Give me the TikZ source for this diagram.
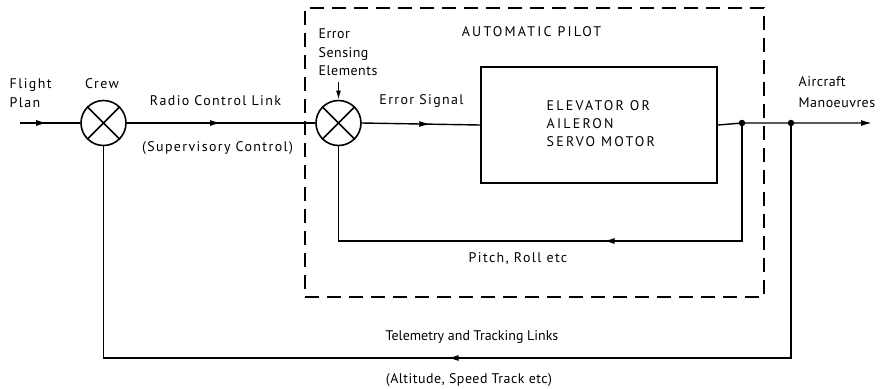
\documentclass[tikz,border=0pt]{standalone}
\usepackage{fontspec}
\setmainfont{PT Sans}[LetterSpace=10]
\newfontfamily\ptN{PT Sans}[LetterSpace=0]
\newfontfamily\ptS{PT Sans}[LetterSpace=3.5]
\newfontfamily\ptW{PT Sans}[LetterSpace=16]
\usetikzlibrary{arrows.meta,decorations.markings}
\begin{document}
\begin{tikzpicture}[x=1bp,y=-1bp,
  line width=1.4bp,
  sumj/.style={circle,draw,line width=1.6bp,minimum size=45bp,inner sep=0pt},
  servo/.style={draw,line width=2.3bp,minimum width=236bp,minimum height=116bp,inner sep=0pt},
  apbox/.style={draw,line width=1.3bp,dash pattern=on 14bp off 8bp,minimum width=459bp,minimum height=289bp,inner sep=0pt},
  lbl/.style={font=\fontsize{14}{19}\selectfont,inner sep=0pt},
  arrowat/.style={postaction={decorate,decoration={markings,mark=at position #1 with {\arrow{Latex[length=11bp,width=6bp]}}}}},
  dotn/.style={circle,fill,minimum size=6.5bp,inner sep=0pt},
]
\useasboundingbox (0,0) rectangle (881,388);
% autopilot dashed box
\node[apbox] (ap) at (534.5,152.5) {};
% junctions and block
\node[sumj] (crew) at (103.5,123) {};
\node[sumj] (esum) at (338.5,123) {};
\draw[line width=1.6bp] (crew.45) -- (crew.225) (crew.135) -- (crew.315);
\draw[line width=1.6bp] (esum.45) -- (esum.225) (esum.135) -- (esum.315);
\node[servo] (servo) at (599,125) {};
\node[dotn] (d1) at (742,123) {};
\node[dotn] (d2) at (791,123) {};
\coordinate (fpin) at (20,123);
\coordinate (out) at (872,123);
\coordinate (esin) at (338.5,82);
% connectors
\draw[arrowat=0.45] (fpin) -- (crew.west);
\draw[arrowat=0.5] (crew.east) -- (esum.west);
\draw[arrowat=0.58] (esum.east) -- (servo.west);
\draw[-{Latex[length=11bp,width=6bp]}] (servo.east) -- (d1.center) -- (d2.center) -- (out);
\draw[-{Latex[length=9bp,width=5bp]}] (esin) -- (esum.north);
\draw[arrowat=0.416] (d1.center) -- (742,241) -- (338.5,241) -- (esum.south);
\draw[arrowat=0.51] (d2.center) -- (791,358) -- (103.5,358) -- (crew.south);
% labels
\node[lbl,align=left,anchor=west] (fplan) at (9,93.5) {Flight\\Plan};
\node[lbl] (crewl) at (102,84) {Crew};
\node[lbl] (radio) at (215.5,101) {Radio Control Link};
\node[lbl] (superv) at (217.5,148) {(Supervisory Control)};
\node[lbl,align=left,anchor=west,font=\fontsize{14}{18.5}\ptS] (esl) at (318,52.5) {Error\\Sensing\\Elements};
\node[lbl,font=\fontsize{14}{19}\ptW] (apl) at (531.5,32) {AUTOMATIC PILOT};
\node[lbl] (errs) at (421.5,101) {Error Signal};
\node[lbl,align=left,anchor=west,font=\fontsize{14}{18}\ptW] (servol) at (546,124) {ELEVATOR OR\\AILERON\\SERVO MOTOR};
\node[lbl,align=left,anchor=west,font=\fontsize{14}{21}\ptS] (acm) at (798,92.5) {Aircraft\\Manoeuvres};
\node[lbl] (pitch) at (518,259) {Pitch, Roll etc};
\node[lbl,font=\fontsize{14}{19}\ptN] (tele) at (472,337) {Telemetry and Tracking Links};
\node[lbl,font=\fontsize{14}{19}\ptS] (alt) at (469,380) {(Altitude, Speed Track etc)};
\end{tikzpicture}
\end{document}
